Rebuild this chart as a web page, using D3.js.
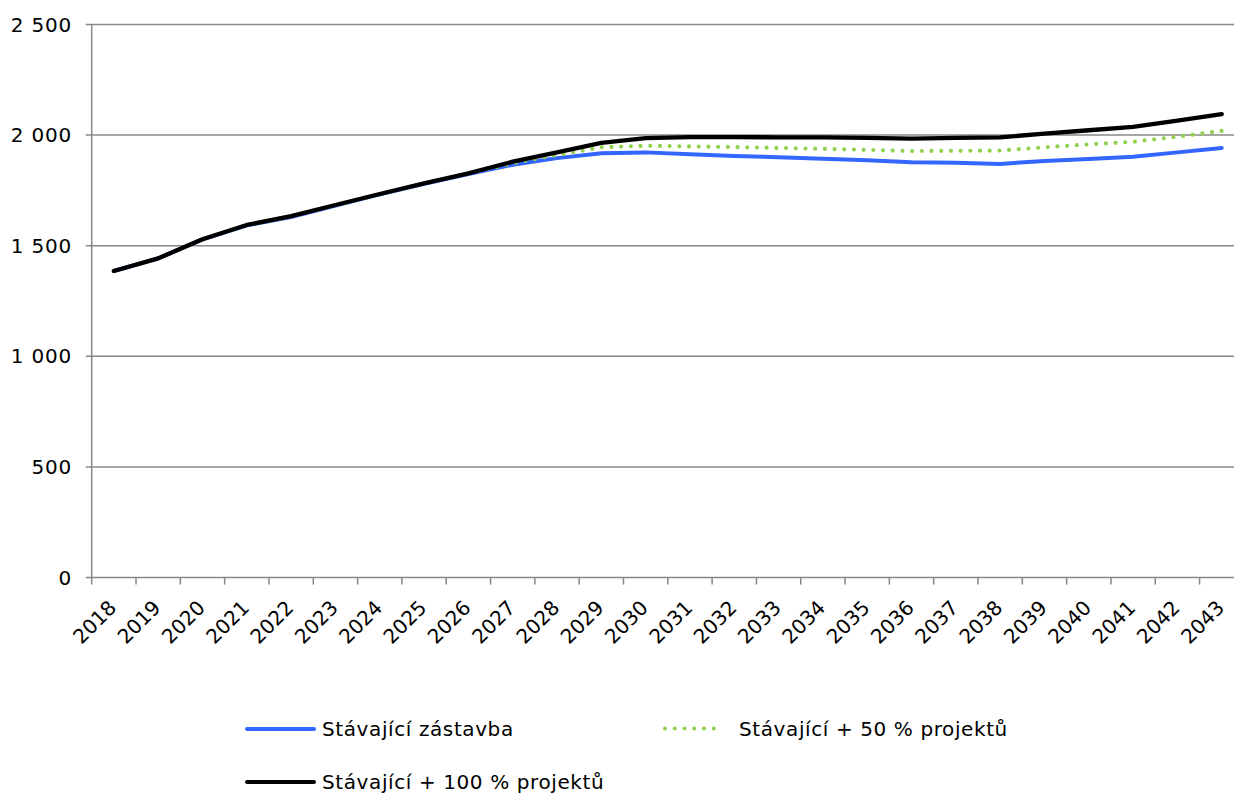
<!DOCTYPE html>
<html><head><meta charset="utf-8">
<script src="https://cdn.jsdelivr.net/npm/d3@7"></script>
<style>
html,body{margin:0;padding:0;background:#fff;}
svg{display:block;font-family:"DejaVu Sans",Verdana,sans-serif;}
</style></head>
<body>
<svg id="chart" width="1234" height="794"></svg>
<script>
const years = ["2018","2019","2020","2021","2022","2023","2024","2025","2026","2027","2028","2029","2030","2031","2032","2033","2034","2035","2036","2037","2038","2039","2040","2041","2042","2043"];
const existing = [1386,1443,1529,1592,1630,1682,1732,1780,1824,1866,1896,1918,1922,1913,1906,1900,1893,1886,1877,1875,1870,1883,1892,1902,1922,1942];
const plus50   = [1386,1443,1529,1593,1632,1683,1733,1781,1826,1873,1910,1945,1952,1949,1946,1942,1938,1933,1928,1929,1930,1945,1958,1970,1993,2019];
const plus100  = [1386,1443,1529,1594,1634,1684,1734,1782,1827,1880,1922,1965,1986,1991,1991,1990,1990,1988,1984,1988,1990,2007,2022,2037,2065,2095];
const yTicks = [0,500,1000,1500,2000,2500];
const seriesNames = ["Stávající zástavba","Stávající + 50 % projektů","Stávající + 100 % projektů"];

(function(){
const svg = d3.select("#chart");
const pLeft = 91.7, pRight = 1243.9, pTop = 24.5, pBottom = 577.6;
const x = d3.scaleBand().domain(years).range([pLeft, pRight]).padding(0);
const y = d3.scaleLinear().domain([0,2500]).range([pBottom, pTop]);
const fmt = v => d3.format(",")(v).replace(/,/g, "\u00a0");
const grid = "#888888";
const fs = 20;

svg.append("g").selectAll("line").data(yTicks).join("line")
  .attr("x1", pLeft - 6).attr("x2", pRight)
  .attr("y1", d => y(d)).attr("y2", d => y(d))
  .attr("stroke", grid).attr("stroke-width", 1.5);

svg.append("line").attr("x1", pLeft).attr("x2", pLeft).attr("y1", pTop).attr("y2", pBottom)
  .attr("stroke", grid).attr("stroke-width", 1.5);

svg.append("g").selectAll("text").data(yTicks).join("text")
  .attr("x", 72).attr("y", d => y(d)).attr("dy", "0.35em")
  .attr("text-anchor", "end").attr("font-size", fs).attr("letter-spacing", 0.8).attr("fill", "#000")
  .text(fmt);

const bounds = years.map(d => x(d)).concat([pRight]);
svg.append("g").selectAll("line").data(bounds).join("line")
  .attr("x1", d => d).attr("x2", d => d).attr("y1", pBottom).attr("y2", pBottom + 7)
  .attr("stroke", grid).attr("stroke-width", 1.5);

svg.append("g").selectAll("text").data(years).join("text")
  .attr("transform", d => `translate(${x(d) + x.bandwidth()/2 + 3.7},${pBottom + 31.5}) rotate(-45)`)
  .attr("text-anchor", "end")
  .attr("font-size", fs).attr("fill", "#000").text(d => d);

const line = d3.line().x((d,i) => x(years[i]) + x.bandwidth()/2).y(d => y(d));

svg.append("path").datum(existing).attr("d", line).attr("fill","none")
  .attr("stroke","#3366ff").attr("stroke-width",4).attr("stroke-linejoin","round").attr("stroke-linecap","round");
svg.append("path").datum(plus50).attr("d", line).attr("fill","none")
  .attr("stroke","#92d050").attr("stroke-width",4.2).attr("stroke-dasharray","0 9.7").attr("stroke-linecap","round");
svg.append("path").datum(plus100).attr("d", line).attr("fill","none")
  .attr("stroke","#000").attr("stroke-width",4.3).attr("stroke-linejoin","round").attr("stroke-linecap","round");

const legend = [
  {name: seriesNames[0], color:"#3366ff", dash:null, x:247, y:729},
  {name: seriesNames[1], color:"#92d050", dash:"0 9.75", x:665, y:728.5},
  {name: seriesNames[2], color:"#000", dash:null, x:247, y:782}
];
const lg = svg.append("g").selectAll("g").data(legend).join("g");
lg.append("line").attr("x1", d => d.x).attr("x2", d => d.x + (d.dash ? 58.5 : 67))
  .attr("y1", d => d.y).attr("y2", d => d.y)
  .attr("stroke", d => d.color).attr("stroke-width", 4)
  .attr("stroke-dasharray", d => d.dash).attr("stroke-linecap", "round");
lg.append("text").attr("x", d => d.dash ? 739 : 322).attr("y", d => d.y).attr("dy","0.35em")
  .attr("font-size", fs).attr("letter-spacing", 0.6).attr("fill","#000").text(d => d.name);
})();
</script>
</body></html>
